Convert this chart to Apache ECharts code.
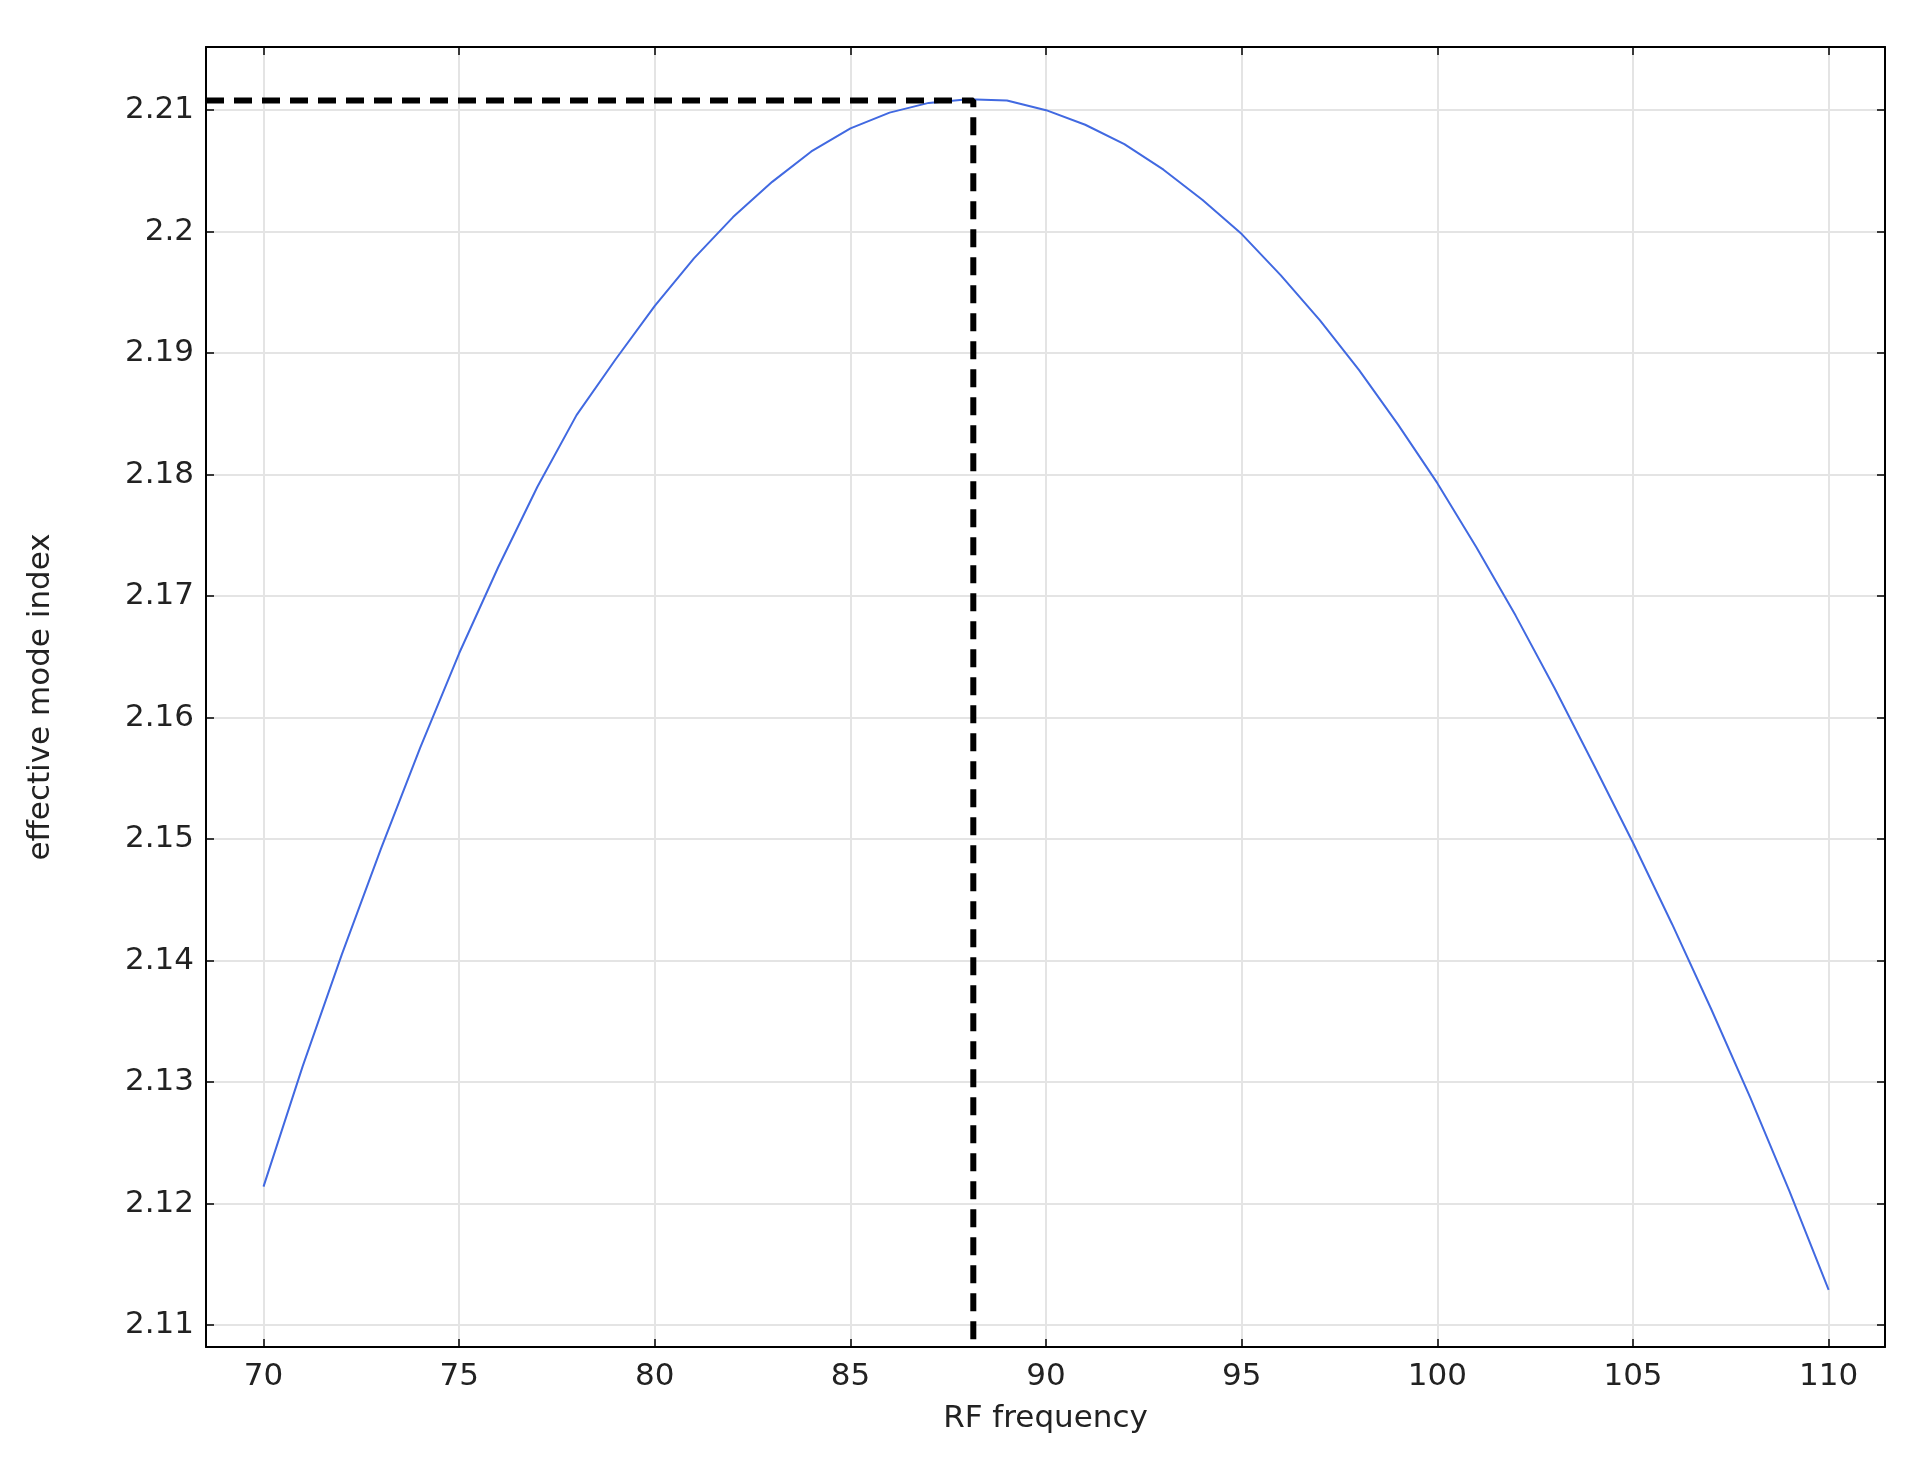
<!DOCTYPE html>
<html>
<head>
<meta charset="utf-8">
<script src="https://cdn.jsdelivr.net/npm/echarts@6/dist/echarts.min.js"></script>
<style>html,body{margin:0;background:#fff}#chart{width:1915px;height:1457px}</style>
</head>
<body>
<div id="chart"></div>
<script>
// RF frequency sweep and mode index
const freq = [70,71,72,73,74,75,76,77,78,79,80,81,82,83,84,85,86,87,88,89,90,
  91,92,93,94,95,96,97,98,99,100,101,102,103,104,105,106,107,108,109,110];
const modeIndex = [2.1214,2.1313,2.1405,2.1492,2.1575,2.1653,2.1724,2.1790,2.1849,2.1895,2.1939,
  2.1978,2.2012,2.2041,2.2066,2.2085,2.2098,2.2106,2.2109,2.2108,2.2100,
  2.2088,2.2072,2.2051,2.2026,2.1998,2.1964,2.1927,2.1886,2.1841,2.1793,
  2.1740,2.1684,2.1624,2.1561,2.1497,2.1430,2.1360,2.1287,2.1210,2.1129];
const xTicks = [70,75,80,85,90,95,100,105,110];
const yTicks = [2.11,2.12,2.13,2.14,2.15,2.16,2.17,2.18,2.19,2.2,2.21];
const peakX = 88.14, peakY = 2.2108;
const xMin = 68.53, xMax = 111.44, yMin = 2.1082, yMax = 2.2152;

const chart = echarts.init(document.getElementById('chart'));
const font = 'DejaVu Sans';
const tickStyle = {show: true, inside: true, length: 8, lineStyle: {color: '#000', width: 1.5}};

const xBase = {
  type: 'value', min: xMin, max: xMax,
  axisLine: {show: true, onZero: false, lineStyle: {color: '#000', width: 2}},
};
const yBase = {
  type: 'value', min: yMin, max: yMax,
  axisLine: {show: true, onZero: false, lineStyle: {color: '#000', width: 2}},
};

chart.setOption({
  animation: false,
  grid: {left: 206, right: 30, top: 47, bottom: 110},
  xAxis: [
    Object.assign({}, xBase, {
      position: 'bottom',
      name: 'RF frequency', nameLocation: 'middle', nameGap: 56,
      nameTextStyle: {fontFamily: font, fontSize: 31, color: '#222'},
      axisTick: Object.assign({customValues: xTicks}, tickStyle),
      axisLabel: {customValues: xTicks, fontFamily: font, fontSize: 31, color: '#222', margin: 14},
      splitLine: {show: true, lineStyle: {color: '#e4e4e4', width: 2}}
    }),
    Object.assign({}, xBase, {
      position: 'top',
      axisTick: Object.assign({customValues: xTicks}, tickStyle),
      axisLabel: {show: false}, splitLine: {show: false}
    })
  ],
  yAxis: [
    Object.assign({}, yBase, {
      position: 'left',
      name: 'effective mode index', nameLocation: 'middle', nameGap: 150,
      nameTextStyle: {fontFamily: font, fontSize: 31, color: '#222'},
      axisTick: Object.assign({customValues: yTicks}, tickStyle),
      axisLabel: {customValues: yTicks, fontFamily: font, fontSize: 31, color: '#222', margin: 12,
        formatter: v => String(+v.toFixed(2))},
      splitLine: {show: true, lineStyle: {color: '#e4e4e4', width: 2}}
    }),
    Object.assign({}, yBase, {
      position: 'right',
      axisTick: Object.assign({customValues: yTicks}, tickStyle),
      axisLabel: {show: false}, splitLine: {show: false}
    })
  ],
  series: [
    {
      type: 'line', symbol: 'none',
      data: freq.map((f, i) => [f, modeIndex[i]]),
      lineStyle: {color: '#4169e1', width: 2}
    },
    {
      type: 'line', symbol: 'none',
      data: [[xMin, peakY], [peakX, peakY], [peakX, yMin]],
      lineStyle: {color: '#000', width: 6, type: [18, 10]}
    }
  ]
});
</script>
</body>
</html>
